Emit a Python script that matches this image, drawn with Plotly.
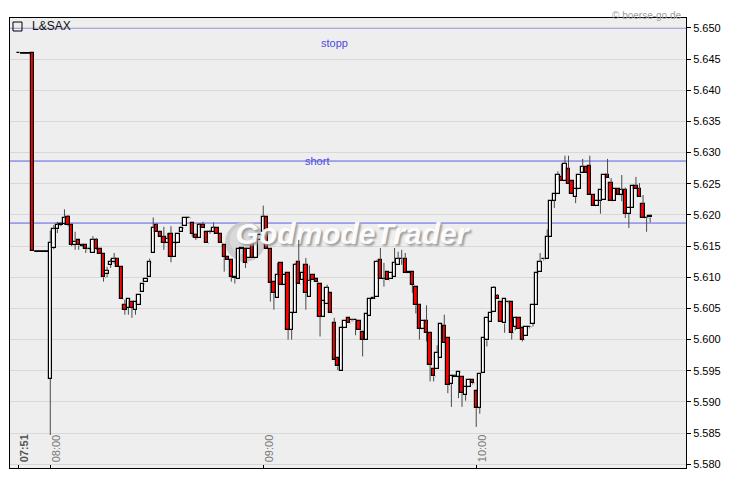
import plotly.graph_objects as go
import pandas as pd

# ---------------- data ----------------
pre_times = ["07:51", "07:55"]
times = pre_times + [t.strftime("%H:%M") for t in pd.date_range("2024-01-01 08:00", "2024-01-01 10:49", freq="min")]

open_ = [5.6460, 5.6460,
 5.5937, 5.6147, 5.6177, 5.6184, 5.6186, 5.6197, 5.6184, 5.6152, 5.6160, 5.6151,
 5.6151, 5.6145, 5.6139, 5.6160, 5.6145, 5.6137, 5.6105, 5.6120, 5.6124, 5.6129,
 5.6116, 5.6055, 5.6051, 5.6061, 5.6048, 5.6055, 5.6077, 5.6092, 5.6100, 5.6139,
 5.6184, 5.6173, 5.6165, 5.6155, 5.6170, 5.6133, 5.6155, 5.6173, 5.6183, 5.6195,
 5.6187, 5.6168, 5.6163, 5.6184, 5.6173, 5.6173, 5.6173, 5.6179, 5.6169, 5.6152,
 5.6133, 5.6127, 5.6101, 5.6097, 5.6146, 5.6146, 5.6131, 5.6155, 5.6131, 5.6160,
 5.6173, 5.6197, 5.6145, 5.6093, 5.6066, 5.6123, 5.6088, 5.6107, 5.6016, 5.6042,
 5.6124, 5.6096, 5.6120, 5.6069, 5.6103, 5.6097, 5.6089, 5.6037, 5.6057, 5.6074,
 5.6026, 5.5971, 5.5950, 5.6019, 5.6034, 5.6031, 5.6031, 5.6030, 5.6012, 5.6000,
 5.6038, 5.6065, 5.6069, 5.6127, 5.6097, 5.6109, 5.6097, 5.6101, 5.6120, 5.6129,
 5.6129, 5.6107, 5.6109, 5.6084, 5.6055, 5.6017, 5.6030, 5.6011, 5.5953, 5.5953,
 5.5970, 5.6022, 5.6002, 5.5929, 5.5941, 5.5940, 5.5940, 5.5911, 5.5924, 5.5935,
 5.5917, 5.5891, 5.5946, 5.5999, 5.6028, 5.6045, 5.6070, 5.6060, 5.6026, 5.6060,
 5.6060, 5.6021, 5.6034, 5.6018, 5.6005, 5.6020, 5.6025, 5.6055, 5.6109, 5.6129,
 5.6129, 5.6165, 5.6223, 5.6233, 5.6261, 5.6255, 5.6274, 5.6255, 5.6229, 5.6241,
 5.6267, 5.6277, 5.6279, 5.6232, 5.6215, 5.6223, 5.6224, 5.6264, 5.6251, 5.6222,
 5.6241, 5.6232, 5.6240, 5.6202, 5.6211, 5.6246, 5.6241, 5.6217, 5.6195, 5.6196]

high = [5.6460, 5.6460,
 5.6175, 5.6184, 5.6189, 5.6189, 5.6209, 5.6200, 5.6184, 5.6173, 5.6160, 5.6153,
 5.6152, 5.6146, 5.6166, 5.6163, 5.6145, 5.6137, 5.6117, 5.6129, 5.6139, 5.6131,
 5.6116, 5.6064, 5.6066, 5.6061, 5.6061, 5.6071, 5.6089, 5.6097, 5.6130, 5.6196,
 5.6186, 5.6173, 5.6181, 5.6171, 5.6182, 5.6155, 5.6170, 5.6179, 5.6195, 5.6197,
 5.6187, 5.6170, 5.6187, 5.6189, 5.6173, 5.6176, 5.6188, 5.6179, 5.6169, 5.6152,
 5.6133, 5.6127, 5.6101, 5.6146, 5.6148, 5.6146, 5.6146, 5.6155, 5.6160, 5.6168,
 5.6215, 5.6197, 5.6145, 5.6093, 5.6123, 5.6123, 5.6104, 5.6107, 5.6042, 5.6123,
 5.6160, 5.6107, 5.6131, 5.6119, 5.6103, 5.6097, 5.6089, 5.6062, 5.6088, 5.6074,
 5.6035, 5.5971, 5.6019, 5.6030, 5.6034, 5.6033, 5.6031, 5.6030, 5.6012, 5.6041,
 5.6065, 5.6068, 5.6128, 5.6147, 5.6123, 5.6109, 5.6107, 5.6147, 5.6141, 5.6144,
 5.6139, 5.6109, 5.6109, 5.6084, 5.6055, 5.6030, 5.6055, 5.6011, 5.5953, 5.5991,
 5.6025, 5.6040, 5.6002, 5.5941, 5.5944, 5.5948, 5.5940, 5.5924, 5.5935, 5.5935,
 5.5917, 5.5945, 5.6002, 5.6034, 5.6043, 5.6086, 5.6073, 5.6060, 5.6065, 5.6062,
 5.6060, 5.6034, 5.6034, 5.6018, 5.6020, 5.6022, 5.6055, 5.6107, 5.6139, 5.6131,
 5.6177, 5.6223, 5.6233, 5.6270, 5.6282, 5.6295, 5.6295, 5.6255, 5.6241, 5.6264,
 5.6290, 5.6277, 5.6295, 5.6232, 5.6223, 5.6240, 5.6264, 5.6290, 5.6259, 5.6241,
 5.6241, 5.6264, 5.6244, 5.6211, 5.6246, 5.6261, 5.6251, 5.6232, 5.6197, 5.6201]

low = [5.6460, 5.6142,
 5.5847, 5.6145, 5.6171, 5.6182, 5.6184, 5.6182, 5.6150, 5.6144, 5.6144, 5.6149,
 5.6139, 5.6144, 5.6139, 5.6144, 5.6137, 5.6093, 5.6100, 5.6115, 5.6122, 5.6116,
 5.6065, 5.6040, 5.6040, 5.6035, 5.6040, 5.6055, 5.6077, 5.6092, 5.6100, 5.6139,
 5.6173, 5.6164, 5.6144, 5.6155, 5.6124, 5.6133, 5.6155, 5.6173, 5.6183, 5.6195,
 5.6165, 5.6160, 5.6163, 5.6179, 5.6155, 5.6170, 5.6173, 5.6169, 5.6155, 5.6109,
 5.6127, 5.6093, 5.6090, 5.6097, 5.6146, 5.6115, 5.6131, 5.6131, 5.6131, 5.6160,
 5.6173, 5.6145, 5.6061, 5.6048, 5.6066, 5.6088, 5.6088, 5.6000, 5.6000, 5.6042,
 5.6089, 5.6096, 5.6048, 5.6069, 5.6095, 5.6092, 5.6005, 5.6037, 5.6057, 5.6042,
 5.5967, 5.5951, 5.5950, 5.6019, 5.6026, 5.6029, 5.6007, 5.6016, 5.5973, 5.6000,
 5.6038, 5.6065, 5.6069, 5.6097, 5.6085, 5.6095, 5.6097, 5.6101, 5.6120, 5.6120,
 5.6107, 5.6107, 5.6075, 5.6042, 5.6000, 5.6017, 5.5997, 5.5933, 5.5933, 5.5953,
 5.5970, 5.5994, 5.5914, 5.5892, 5.5941, 5.5906, 5.5892, 5.5902, 5.5924, 5.5928,
 5.5860, 5.5881, 5.5946, 5.5989, 5.6028, 5.6045, 5.6065, 5.6028, 5.6011, 5.6058,
 5.6000, 5.6015, 5.6017, 5.5997, 5.6005, 5.6018, 5.6021, 5.6055, 5.6109, 5.6127,
 5.6129, 5.6165, 5.6211, 5.6233, 5.6255, 5.6255, 5.6249, 5.6233, 5.6219, 5.6241,
 5.6267, 5.6268, 5.6232, 5.6215, 5.6215, 5.6202, 5.6224, 5.6259, 5.6222, 5.6222,
 5.6232, 5.6222, 5.6195, 5.6179, 5.6211, 5.6241, 5.6229, 5.6195, 5.6173, 5.6188]

close = [5.6460, 5.6142,
 5.6155, 5.6177, 5.6184, 5.6186, 5.6195, 5.6184, 5.6152, 5.6156, 5.6151, 5.6151,
 5.6145, 5.6145, 5.6160, 5.6145, 5.6137, 5.6100, 5.6110, 5.6124, 5.6129, 5.6116,
 5.6065, 5.6048, 5.6065, 5.6051, 5.6061, 5.6071, 5.6089, 5.6097, 5.6124, 5.6179,
 5.6173, 5.6164, 5.6155, 5.6161, 5.6133, 5.6155, 5.6170, 5.6179, 5.6195, 5.6195,
 5.6170, 5.6163, 5.6184, 5.6179, 5.6155, 5.6173, 5.6179, 5.6169, 5.6155, 5.6133,
 5.6127, 5.6101, 5.6099, 5.6146, 5.6146, 5.6123, 5.6146, 5.6131, 5.6160, 5.6168,
 5.6197, 5.6145, 5.6091, 5.6074, 5.6104, 5.6088, 5.6104, 5.6016, 5.6042, 5.6120,
 5.6089, 5.6107, 5.6074, 5.6094, 5.6095, 5.6092, 5.6037, 5.6062, 5.6083, 5.6042,
 5.5967, 5.5957, 5.6019, 5.6030, 5.6026, 5.6031, 5.6031, 5.6016, 5.6000, 5.6041,
 5.6065, 5.6066, 5.6125, 5.6097, 5.6097, 5.6095, 5.6107, 5.6123, 5.6129, 5.6129,
 5.6107, 5.6109, 5.6088, 5.6055, 5.6017, 5.6030, 5.6010, 5.5959, 5.5941, 5.5979,
 5.6025, 5.5994, 5.5927, 5.5941, 5.5941, 5.5948, 5.5914, 5.5924, 5.5935, 5.5930,
 5.5890, 5.5945, 5.6002, 5.6034, 5.6043, 5.6083, 5.6065, 5.6028, 5.6065, 5.6060,
 5.6011, 5.6034, 5.6017, 5.6000, 5.6020, 5.6020, 5.6055, 5.6107, 5.6124, 5.6129,
 5.6165, 5.6223, 5.6233, 5.6264, 5.6255, 5.6282, 5.6249, 5.6233, 5.6241, 5.6264,
 5.6277, 5.6268, 5.6232, 5.6215, 5.6223, 5.6240, 5.6264, 5.6259, 5.6222, 5.6241,
 5.6232, 5.6240, 5.6202, 5.6211, 5.6246, 5.6241, 5.6229, 5.6195, 5.6195, 5.6199]

level_names = ["stopp", "short", ""]
level_values = [5.6500, 5.62865, 5.6187]
y_ticks = [5.580, 5.585, 5.590, 5.595, 5.600, 5.605, 5.610, 5.615, 5.620, 5.625, 5.630, 5.635, 5.640, 5.645, 5.650]
x_tick_labels = ["07:51", "08:00", "09:00", "10:00"]
instrument = "L&SAX"

# ---------------- helpers ----------------
def to_min(s):
    h, m = s.split(":")
    return (int(h) - 8) * 60 + int(m)

xs = [to_min(t) for t in times]
BW = 0.95          # body width in minutes
half = BW / 2

# bodies
base, height, colors, btop, bbot = [], [], [], [], []
min_h = 0.00005
for o, c in zip(open_, close):
    lo_, hi_ = min(o, c), max(o, c)
    if hi_ - lo_ < min_h:
        mid = (hi_ + lo_) / 2
        lo_, hi_ = mid - min_h / 2, mid + min_h / 2
    base.append(lo_)
    height.append(hi_ - lo_)
    btop.append(hi_)
    bbot.append(lo_)
    colors.append("#ff0000" if c < o else "#ffffff")

# step line (close carried to next candle), kept outside the bodies
sx, sy = [], []
for i in range(len(xs) - 1):
    sx += [xs[i] + half, xs[i + 1] - half, None]
    sy += [close[i], close[i], None]

# wicks, kept outside the bodies
wx, wy = [], []
for i in range(len(xs)):
    if high[i] > btop[i]:
        wx += [xs[i], xs[i], None]
        wy += [btop[i], high[i], None]
    if low[i] < bbot[i]:
        wx += [xs[i], xs[i], None]
        wy += [low[i], bbot[i], None]

fig = go.Figure()

# watermark text (below candles)
fig.add_trace(go.Scatter(
    x=[85], y=[5.6165], mode="text", text=["GodmodeTrader"],
    textfont=dict(family="Liberation Sans Narrow, Liberation Sans, Arial", size=30,
                  color="rgba(255,255,255,0.95)", weight="bold", style="italic",
                  shadow="2px 2px 2px #9a9a9a"),
    hoverinfo="skip", showlegend=False))

fig.add_trace(go.Scatter(x=sx, y=sy, mode="lines", line=dict(color="#000000", width=1.8),
                         hoverinfo="skip", showlegend=False))
fig.add_trace(go.Scatter(x=wx, y=wy, mode="lines", line=dict(color="#4a4a4a", width=1),
                         hoverinfo="skip", showlegend=False))
fig.add_trace(go.Bar(x=xs, y=height, base=base, width=BW,
                     marker=dict(color=colors, line=dict(color="#000000", width=1.2)),
                     hoverinfo="skip", showlegend=False))

# horizontal level lines
for v in level_values:
    fig.add_shape(type="line", xref="paper", x0=0, x1=1, yref="y", y0=v, y1=v,
                  line=dict(color="#5f5fe6", width=1), layer="between")

# watermark logo circle
fig.add_shape(type="circle", xref="x", yref="y", x0=49.3, x1=60.5, y0=5.6125, y1=5.6189,
              fillcolor="#c6c6c6", line=dict(width=0), layer="between", opacity=0.9)
fig.add_shape(type="circle", xref="x", yref="y", x0=50.6, x1=59.0, y0=5.6136, y1=5.6184,
              fillcolor="#dadada", line=dict(width=0), layer="between", opacity=0.9)

fig.add_annotation(x=80.2, y=5.6476, text=level_names[0], showarrow=False,
                   font=dict(family="Liberation Sans, Arial", size=11, color="#4b4be0"))
fig.add_annotation(x=75.1, y=level_values[1], text=level_names[1], showarrow=False,
                   font=dict(family="Liberation Sans, Arial", size=11, color="#4b4be0"))

# x tick labels (rotated, inside plot)
for lab in x_tick_labels:
    fig.add_annotation(x=to_min(lab), y=0, xref="x", yref="paper", text=lab,
                       textangle=-90, showarrow=False, xanchor="center", yanchor="bottom",
                       xshift=6, yshift=4,
                       font=dict(family="Liberation Sans, Arial", size=11,
                                 color="#555555" if lab == "07:51" else "#777777",
                                 weight="bold" if lab == "07:51" else "normal"))

# legend-like title
W0, H0 = 676, 450
fig.add_shape(type="rect", xref="paper", yref="paper",
              x0=3 / W0, x1=12 / W0, y0=1 - 13 / H0, y1=1 - 4 / H0,
              line=dict(color="#000000", width=1), fillcolor="rgba(0,0,0,0)")
fig.add_annotation(x=20 / W0, y=1 - 8.5 / H0, xref="paper", yref="paper", text=instrument,
                   showarrow=False, xanchor="left", yanchor="middle",
                   font=dict(family="Liberation Sans, Arial", size=12, color="#111111"))
fig.add_annotation(x=(684 - 10) / W0, y=1 + 10 / H0, xref="paper", yref="paper",
                   text="© boerse-go.de", showarrow=False, xanchor="right", yanchor="top",
                   font=dict(family="Liberation Sans, Arial", size=10, color="#a0a0a0"))

fig.update_layout(
    width=722, height=473, autosize=False,
    margin=dict(l=2, r=44, t=10, b=13),
    paper_bgcolor="#ffffff", plot_bgcolor="#eeeeee",
    bargap=0, showlegend=False,
    xaxis=dict(range=[-11.35, 179.1], tickvals=[to_min(t) for t in x_tick_labels],
               showticklabels=False, ticks="inside", ticklen=3, tickcolor="#000000",
               showgrid=False, zeroline=False, showline=True, linecolor="#000000",
               linewidth=1, mirror=True, fixedrange=True),
    yaxis=dict(range=[5.5794, 5.6516], side="right", tickvals=y_ticks,
               ticktext=[f"{v:.3f}" for v in y_ticks],
               ticks="outside", ticklen=4, tickcolor="#000000",
               tickfont=dict(family="Liberation Sans, Arial", size=11, color="#000000"),
               showgrid=True, gridcolor="#d8d8d8", gridwidth=1, zeroline=False,
               showline=True, linecolor="#000000", linewidth=1, mirror=True,
               automargin=False, fixedrange=True),
)

fig.write_html("out.html")
